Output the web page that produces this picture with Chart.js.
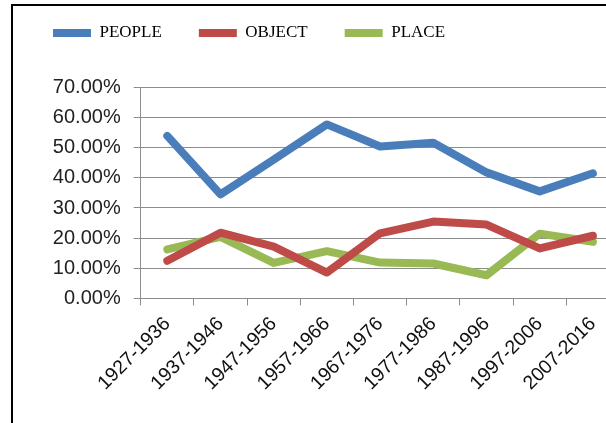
<!DOCTYPE html>
<html>
<head>
<meta charset="utf-8">
<script src="https://cdn.jsdelivr.net/npm/chart.js@4.4.0/dist/chart.umd.min.js"></script>
<style>
  html,body{margin:0;padding:0;background:#fff;width:606px;height:423px;overflow:hidden;}
  #frame{position:absolute;left:11px;top:4px;width:700px;height:500px;border-left:2px solid #000;border-top:2px solid #000;}
  #chart{position:absolute;left:0;top:0;}
</style>
</head>
<body>
<div id="frame"></div>
<canvas id="chart" width="640" height="423"></canvas>
<script>
  // decades on the x axis
  const periods = ['1927-1936','1937-1946','1947-1956','1957-1966','1967-1976','1977-1986','1987-1996','1997-2006','2007-2016'];
  // share of each theme, in percent
  const people = [53.9, 34.5, 46.0, 57.7, 50.4, 51.6, 41.8, 35.5, 41.5];
  const object = [12.5, 21.8, 17.2, 8.6, 21.6, 25.5, 24.5, 16.6, 20.8];
  const place  = [16.3, 20.4, 11.8, 15.7, 11.9, 11.6, 7.7, 21.5, 18.8];
  const yMax = 70, yStep = 10;

  const gridGray = '#8c8c8c';

  function series(label, data, color){
    return { label, data, borderColor: color, backgroundColor: color, borderWidth: 8,
      pointRadius: 0, pointHoverRadius: 0, tension: 0, fill: false,
      borderJoinStyle: 'round', borderCapStyle: 'round' };
  }

  // give the legend the same band above the plot as the reference
  const legendBand = {
    id: 'legendBand',
    beforeInit(chart){
      const fit = chart.legend.fit;
      chart.legend.fit = function(){ fit.call(this); this.height = 99.8; };
    }
  };

  new Chart(document.getElementById('chart'), {
    type: 'line',
    data: { labels: periods, datasets: [
      series('PEOPLE', people, '#4a7ebb'),
      series('OBJECT', object, '#be4b48'),
      series('PLACE', place, '#98b954')
    ]},
    options: {
      responsive: false, animation: false, devicePixelRatio: 1,
      layout: { padding: { left: 16, top: -12.5, right: 20.5, bottom: 0 } },
      plugins: {
        tooltip: { enabled: false },
        legend: { position: 'top', align: 'start',
          labels: { usePointStyle: true, pointStyle: 'line', pointStyleWidth: 38, padding: 37,
            color: '#000', font: { family: 'Liberation Serif', size: 17 } } }
      },
      scales: {
        x: { offset: true,
          grid: { offset: true, drawOnChartArea: false, drawTicks: true, tickLength: 7, color: gridGray },
          border: { color: gridGray },
          ticks: { color: '#111', font: { family: 'Liberation Sans', size: 19.5 },
            minRotation: 45, maxRotation: 45, padding: 7, autoSkip: false },
          afterFit(s){ s.height = 124.5; } },
        y: { min: 0, max: yMax,
          grid: { color: gridGray, tickLength: 7 },
          border: { color: gridGray },
          ticks: { stepSize: yStep, color: '#222', font: { family: 'Liberation Sans', size: 20 }, padding: 13,
            callback: v => v.toFixed(2) + '%' },
          afterFit(s){ s.width = 124.7; } }
      }
    },
    plugins: [legendBand]
  });
</script>
</body>
</html>
